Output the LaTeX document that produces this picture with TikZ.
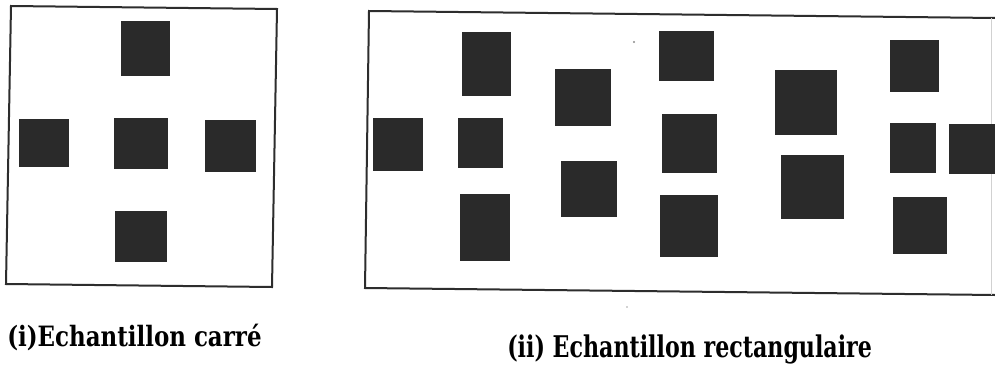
\documentclass[tikz,border=0pt]{standalone}
\usepackage{fontspec}
\usepackage{graphicx}
\setmainfont{DejaVu Serif}
\definecolor{echblockgray}{RGB}{42,42,42}
\definecolor{echframegray}{RGB}{45,45,45}

\begin{document}
\begin{tikzpicture}[x=0.75pt,y=-0.75pt,
  every node/.style={inner sep=0pt},
  echframe/.style={echframegray,line width=1.5pt,line join=miter},
  echblock/.style={fill=echblockgray},
  echlabel/.style={font=\fontsize{20}{24}\selectfont\bfseries,anchor=base west}]
\useasboundingbox[fill=white] (0,0) rectangle (995,364);
% (i) square sample
\draw[echframe] (11,6) -- (277,9) -- (272,287) -- (6,284) -- cycle;
\fill[echblock] (121,21) rectangle (170,76);
\fill[echblock] (19,119) rectangle (69,167);
\fill[echblock] (114,118) rectangle (168,169);
\fill[echblock] (205,120) rectangle (256,172);
\fill[echblock] (115,211) rectangle (167,262);
% (ii) rectangular sample
\draw[echframe] (995,18) -- (369,11) -- (365,288) -- (995,295);
\draw[black!18,line width=0.6pt] (991,18) -- (991,295);
\fill[echblock] (373,118) rectangle (423,171);
\fill[echblock] (462,32) rectangle (511,96);
\fill[echblock] (458,118) rectangle (503,168);
\fill[echblock] (460,194) rectangle (510,261);
\fill[echblock] (555,69) rectangle (611,126);
\fill[echblock] (561,161) rectangle (617,217);
\fill[echblock] (659,31) rectangle (714,81);
\fill[echblock] (662,114) rectangle (717,173);
\fill[echblock] (660,195) rectangle (718,257);
\fill[echblock] (775,70) rectangle (837,135);
\fill[echblock] (781,155) rectangle (844,219);
\fill[echblock] (890,40) rectangle (939,92);
\fill[echblock] (890,123) rectangle (936,173);
\fill[echblock] (949,124) rectangle (995,174);
\fill[echblock] (893,197) rectangle (947,254);
\fill[black!45] (634,42) circle (1.1);
\fill[black!35] (627,307) circle (0.9);
% captions
\node[echlabel] (capcarre) at (7,346) {\scalebox{0.86}[1.05]{(i)Echantillon carré}};
\node[echlabel] (caprect) at (507,357) {\scalebox{0.83}[1.12]{(ii) Echantillon rectangulaire}};
\end{tikzpicture}
\end{document}
